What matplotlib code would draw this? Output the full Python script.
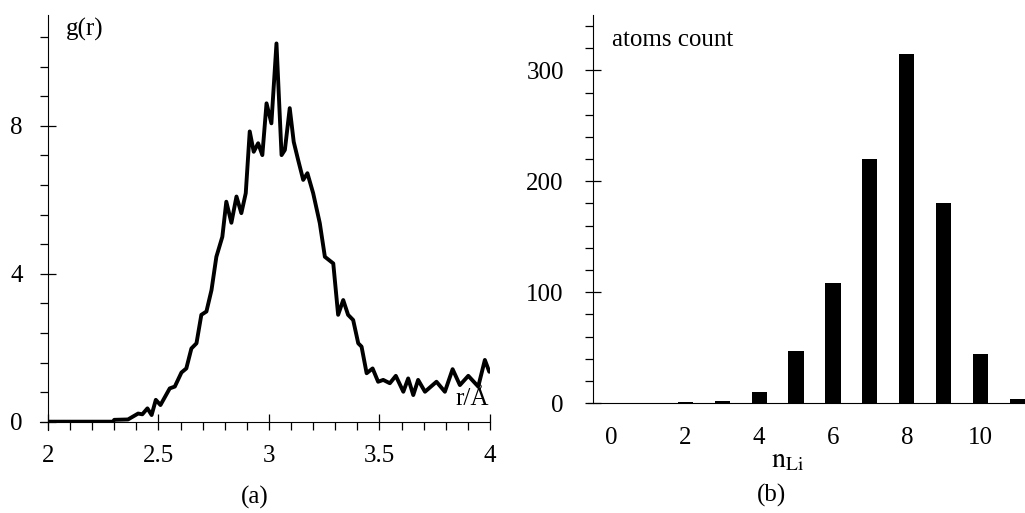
import numpy as np
import matplotlib.pyplot as plt
from matplotlib.ticker import MultipleLocator

plt.rcParams['font.family'] = ['Liberation Serif', 'DejaVu Serif']
plt.rcParams['mathtext.fontset'] = 'stix'

# (a) radial distribution function g(r)
r = [2.0, 2.294, 2.30, 2.362, 2.408, 2.427, 2.45, 2.469, 2.488, 2.509, 2.551, 2.574,
     2.604, 2.626, 2.649, 2.672, 2.694, 2.717, 2.74, 2.762, 2.789, 2.807, 2.83, 2.853,
     2.875, 2.895, 2.913, 2.931, 2.951, 2.97, 2.989, 3.011, 3.034, 3.057, 3.072, 3.094,
     3.112, 3.132, 3.155, 3.174, 3.2, 3.23, 3.253, 3.291, 3.313, 3.336, 3.358, 3.381,
     3.404, 3.419, 3.442, 3.469, 3.494, 3.517, 3.547, 3.574, 3.608, 3.63, 3.653, 3.675,
     3.706, 3.758, 3.796, 3.831, 3.864, 3.902, 3.947, 3.977, 3.997]
g = [0.0, 0.0, 0.05, 0.06, 0.22, 0.2, 0.36, 0.18, 0.59, 0.45, 0.9, 0.95,
     1.33, 1.44, 1.98, 2.12, 2.89, 2.98, 3.56, 4.46, 5.0, 5.95, 5.38, 6.09,
     5.64, 6.18, 7.85, 7.3, 7.53, 7.21, 8.61, 8.07, 10.23, 7.21, 7.35, 8.48,
     7.57, 7.08, 6.54, 6.72, 6.18, 5.37, 4.46, 4.28, 2.89, 3.29, 2.89, 2.75,
     2.12, 2.03, 1.31, 1.44, 1.08, 1.13, 1.04, 1.24, 0.81, 1.17, 0.72, 1.13,
     0.81, 1.08, 0.81, 1.42, 0.99, 1.24, 0.95, 1.67, 1.35]

# (b) histogram of Li neighbours
n_li = [0, 1, 2, 3, 4, 5, 6, 7, 8, 9, 10, 11]
counts = [0, 0, 1, 2, 10, 47, 108, 220, 315, 180, 44, 4]

fs = 18
fig = plt.figure(figsize=(10.25, 5.13), dpi=100)

# ---- left panel
ax1 = fig.add_axes([0.0468, 0.178, 0.4312, 0.7928])
ax1.plot(r, g, color='black', lw=2.8, solid_joinstyle='round', solid_capstyle='round')
ax1.set_xlim(2, 4)
ax1.set_ylim(0, 11)
ax1.set_xticks([2, 2.5, 3, 3.5, 4])
ax1.set_xticklabels(['2', '2.5', '3', '3.5', '4'])
ax1.set_yticks([0, 4, 8])
ax1.xaxis.set_minor_locator(MultipleLocator(0.1))
ax1.yaxis.set_minor_locator(MultipleLocator(0.8))
for s in ['top', 'right']:
    ax1.spines[s].set_visible(False)
ax1.spines['left'].set_bounds(-0.22, 11)
ax1.spines['bottom'].set_bounds(1.963, 4)
ax1.tick_params(which='major', direction='inout', length=12, width=0.9, labelsize=fs)
ax1.tick_params(which='minor', direction='out', length=6, width=0.9)
ax1.tick_params(axis='y', which='major', pad=12)
ax1.tick_params(axis='x', which='major', pad=11)
ax1.text(0.04, 0.965, 'g(r)', transform=ax1.transAxes, fontsize=fs, ha='left', va='center')
ax1.text(0.998, 0.055, 'r/Å', transform=ax1.transAxes, fontsize=fs, ha='right', va='center')
fig.text(255 / 1025, 1 - 497 / 513, '(a)', fontsize=fs, ha='center', va='center')

# ---- right panel
ax2 = fig.add_axes([0.5785, 0.2144, 0.4215, 0.7563])
ax2.bar(n_li, counts, width=0.41, color='black')
ax2.set_xlim(-0.5, 11.2)
ax2.set_ylim(0, 350)
ax2.set_xticks([0, 2, 4, 6, 8, 10])
ax2.set_yticks([0, 100, 200, 300])
ax2.yaxis.set_minor_locator(MultipleLocator(20))
for s in ['top', 'right']:
    ax2.spines[s].set_visible(False)
ax2.spines['bottom'].set_bounds(-0.64, 11.2)
ax2.tick_params(axis='x', which='both', length=0, labelsize=fs, pad=17)
ax2.tick_params(axis='y', which='major', direction='inout', length=12, width=0.9,
                labelsize=fs, pad=15)
ax2.tick_params(axis='y', which='minor', direction='out', length=6, width=0.9)
ax2.text(0.045, 0.935, 'atoms count', transform=ax2.transAxes, fontsize=fs,
         ha='left', va='center')
fig.text(788 / 1025, 1 - 461 / 513, r'$\mathrm{n_{Li}}$', fontsize=fs + 2,
         ha='center', va='center')
fig.text(771 / 1025, 1 - 495 / 513, '(b)', fontsize=fs, ha='center', va='center')

fig.savefig('out.png', dpi=100)
